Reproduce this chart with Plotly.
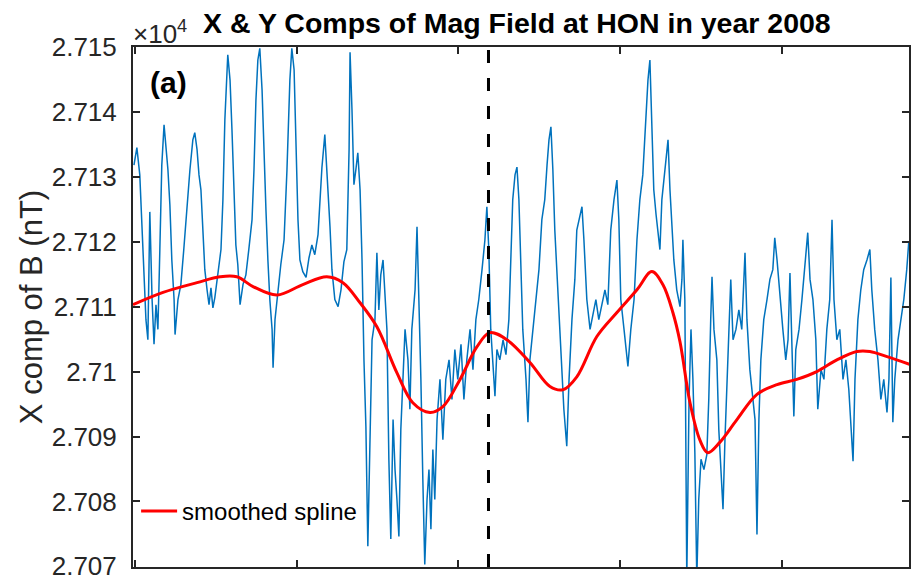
import plotly.graph_objects as go

# ---- data ----
day = [-0.03, 0.06, 0.15, 0.25, 0.34, 0.40, 0.46, 0.53, 0.59, 0.65,
       0.71, 0.77, 0.83, 0.90, 0.96, 1.02, 1.08, 1.14, 1.21, 1.24,
       1.33, 1.42, 1.51, 1.61, 1.70, 1.79, 1.85, 1.92, 1.98, 2.04,
       2.10, 2.16, 2.23, 2.29, 2.35, 2.41, 2.47, 2.57, 2.66, 2.72,
       2.78, 2.87, 2.94, 3.00, 3.06, 3.12, 3.18, 3.25, 3.34, 3.43,
       3.52, 3.62, 3.68, 3.74, 3.80, 3.86, 3.93, 3.99, 4.05, 4.11,
       4.17, 4.24, 4.27, 4.33, 4.42, 4.51, 4.61, 4.70, 4.79, 4.85,
       4.92, 4.98, 5.04, 5.10, 5.19, 5.29, 5.38, 5.47, 5.56, 5.66,
       5.72, 5.78, 5.87, 5.93, 6.03, 6.09, 6.18, 6.28, 6.37, 6.46,
       6.55, 6.62, 6.65, 6.71, 6.77, 6.83, 6.89, 6.96, 7.02, 7.08,
       7.14, 7.20, 7.26, 7.33, 7.42, 7.48, 7.54, 7.60, 7.67, 7.73,
       7.79, 7.85, 7.91, 7.98, 8.04, 8.10, 8.16, 8.22, 8.28, 8.35,
       8.44, 8.50, 8.56, 8.66, 8.72, 8.78, 8.84, 8.90, 8.96, 9.03,
       9.09, 9.15, 9.21, 9.27, 9.34, 9.43, 9.52, 9.61, 9.71, 9.80,
       9.89, 9.98, 10.08, 10.17, 10.26, 10.36, 10.45, 10.54, 10.63, 10.73,
       10.82, 10.88, 10.94, 11.00, 11.07, 11.13, 11.19, 11.28, 11.38, 11.47,
       11.56, 11.62, 11.68, 11.75, 11.81, 11.87, 11.93, 11.99, 12.09, 12.15,
       12.21, 12.30, 12.40, 12.49, 12.58, 12.67, 12.74, 12.80, 12.86, 12.92,
       12.98, 13.08, 13.17, 13.26, 13.35, 13.42, 13.51, 13.60, 13.66, 13.73,
       13.82, 13.88, 13.97, 14.07, 14.16, 14.25, 14.34, 14.44, 14.53, 14.62,
       14.71, 14.81, 14.90, 14.96, 15.02, 15.12, 15.18, 15.24, 15.33, 15.43,
       15.52, 15.61, 15.70, 15.80, 15.86, 15.92, 15.98, 16.04, 16.11, 16.17,
       16.23, 16.29, 16.35, 16.41, 16.48, 16.54, 16.60, 16.66, 16.75, 16.85,
       16.91, 16.94, 17.00, 17.06, 17.13, 17.19, 17.25, 17.31, 17.37, 17.43,
       17.50, 17.59, 17.68, 17.74, 17.80, 17.84, 17.90, 17.99, 18.05, 18.11,
       18.18, 18.24, 18.30, 18.36, 18.42, 18.49, 18.58, 18.67, 18.76, 18.86,
       18.92, 19.01, 19.10, 19.17, 19.23, 19.29, 19.35, 19.44, 19.54, 19.63,
       19.72, 19.78, 19.85, 19.94, 20.03, 20.12, 20.19, 20.25, 20.31, 20.37,
       20.43, 20.53, 20.62, 20.71, 20.80, 20.87, 20.96, 21.05, 21.11, 21.21,
       21.30, 21.39, 21.48, 21.55, 21.61, 21.70, 21.79, 21.89, 21.98, 22.07,
       22.13, 22.20, 22.26, 22.35, 22.44, 22.53, 22.63, 22.72, 22.78, 22.87,
       22.97, 23.06, 23.15, 23.25, 23.31, 23.37, 23.43, 23.49, 23.59, 23.68,
       23.77, 23.86, 23.92]

bx_nT = [27131.8, 27134.5, 27130.3, 27117.2, 27108, 27104.9, 27124.6, 27111.1, 27104.2, 27110.3,
         27106.5, 27118.8, 27131.8, 27138, 27134.2, 27131.1, 27125.7, 27117.2, 27111.1, 27105.7,
         27111.1, 27113.4, 27118.8, 27125.7, 27131.1, 27135.7, 27136.8, 27134.2, 27130.3, 27128,
         27121.8, 27115.7, 27112.6, 27110.3, 27112.9, 27109.8, 27111.4, 27114.9, 27118.8, 27126.5,
         27138.8, 27148.8, 27144.9, 27137.2, 27126.5, 27119.5, 27116.5, 27110.3, 27113.4, 27114.9,
         27118.8, 27123.4, 27131.1, 27141.8, 27148, 27149.8, 27143.4, 27132.6, 27124.9, 27117.2,
         27111.1, 27106.5, 27100.6, 27108, 27112.6, 27116.5, 27120.3, 27131.1, 27144.9, 27149.8,
         27146.5, 27134.2, 27123.4, 27117.2, 27115.4, 27114.5, 27117.5, 27119.5, 27118, 27121.1,
         27126.5, 27131.4, 27136.5, 27131.8, 27122.3, 27115.7, 27111.1, 27110, 27112.6, 27116.9,
         27118.8, 27134.2, 27149.2, 27140.3, 27128.8, 27131.1, 27133.7, 27128, 27117.2, 27101.8,
         27091.5, 27073.1, 27088, 27104.9, 27108, 27118.3, 27109.5, 27114.9, 27117.2, 27111.1,
         27106.5, 27086.5, 27074.2, 27092.6, 27084.9, 27080.3, 27074.6, 27091.1, 27098.8, 27106.5,
         27101.8, 27094.2, 27106.5, 27112.6, 27122.3, 27111.1, 27098.8, 27083.4, 27070.3, 27080.3,
         27084.9, 27075.7, 27088, 27080.3, 27092.6, 27098.8, 27089.5, 27098.8, 27101.8, 27095.7,
         27103.4, 27098.8, 27104.2, 27095.7, 27101.8, 27106.5, 27100.3, 27108, 27111.1, 27115.7,
         27120.3, 27125.4, 27118.8, 27106.5, 27100.3, 27096.2, 27103.4, 27101.8, 27104.9, 27102.6,
         27108, 27117.2, 27126.5, 27130.3, 27131.5, 27126.5, 27117.2, 27106.5, 27098.8, 27092.2,
         27101.8, 27106.5, 27111.1, 27115.7, 27123.4, 27126.5, 27131.8, 27135.7, 27137.7, 27131.1,
         27121.8, 27111.1, 27101.8, 27094.2, 27088.5, 27098.8, 27108, 27114.2, 27121.8, 27123.4,
         27125.4, 27120.3, 27111.1, 27106.5, 27108.8, 27111.1, 27108, 27110.3, 27112.6, 27110.3,
         27121.8, 27126.5, 27129.5, 27123.4, 27111.1, 27106.5, 27103.4, 27100.8, 27106.5, 27111.1,
         27120.3, 27126.5, 27130.3, 27138.8, 27144.9, 27148, 27138.8, 27128, 27124.2, 27121.1,
         27118.8, 27126.5, 27129.5, 27132.6, 27135.7, 27128, 27123.4, 27117.2, 27112.6, 27110,
         27114.2, 27120.3, 27111.1, 27068, 27095.7, 27106.5, 27098.8, 27087.5, 27068, 27080.3,
         27086.5, 27084.9, 27087.2, 27095.7, 27108, 27114.6, 27106.5, 27101.8, 27091.1, 27084.9,
         27078.8, 27089.5, 27098.8, 27108, 27114.2, 27104.9, 27106.5, 27109.5, 27106.5, 27118.3,
         27108, 27100.3, 27095.7, 27092.6, 27074.9, 27092.6, 27101.8, 27108, 27111.1, 27114.2,
         27115.7, 27120.6, 27117.2, 27111.1, 27106.5, 27101.8, 27104.9, 27115.2, 27104.9, 27093.1,
         27103.4, 27106.5, 27111.1, 27115.7, 27121.4, 27114.2, 27111.1, 27104.9, 27094.2, 27100.3,
         27098.8, 27106.5, 27111.1, 27123.4, 27111.1, 27104.9, 27106.5, 27098.8, 27101.8, 27097.2,
         27092.6, 27086.2, 27098.8, 27108, 27112.6, 27115.7, 27117.2, 27118.8, 27112.6, 27106.5,
         27101.8, 27095.7, 27098.8, 27093.7, 27098.8, 27114.5, 27092.2, 27098.8, 27104.9, 27108,
         27111.1, 27115.7, 27119.8]

spline_day = [-0.06, 0.87, 1.92, 2.63, 3.15, 3.65, 4.39, 5.19, 5.93, 6.43,
              6.96, 7.48, 8.10, 8.59, 9.12, 9.52, 10.05, 10.57, 10.97, 11.50,
              12.21, 12.83, 13.23, 13.66, 14.28, 14.90, 15.52, 15.98, 16.32, 16.63,
              16.85, 17.16, 17.47, 17.71, 18.08, 18.61, 19.23, 19.85, 20.46, 21.08,
              21.70, 22.32, 22.72, 23.25, 23.96]
spline_nT = [27110.3, 27112.2, 27113.7, 27114.6, 27114.6, 27113.1, 27111.8, 27113.4, 27114.6, 27113.7,
             27110.6, 27106.9, 27099.8, 27095.2, 27093.7, 27094.6, 27098.8, 27103.8, 27106.0, 27104.9,
             27101.4, 27097.7, 27097.2, 27099.2, 27105.4, 27109.1, 27112.6, 27115.4, 27113.4, 27109.1,
             27104.6, 27095.2, 27089.4, 27087.5, 27089.1, 27092.6, 27096.5, 27098.0, 27098.8, 27100.0,
             27101.8, 27103.1, 27103.1, 27102.3, 27101.1]

event_day = 10.93

y_tick_vals = [27070, 27080, 27090, 27100, 27110, 27120, 27130, 27140, 27150]
y_tick_text = ["2.707", "2.708", "2.709", "2.71", "2.711", "2.712", "2.713", "2.714", "2.715"]
x_tick_vals = [0, 5, 10, 15, 20]
x_range = [-0.06, 23.93]
y_range = [27069.9, 27150]

title_text = "X & Y Comps of Mag Field at HON in year 2008"
y_title = "X comp of B (nT)"
legend_name = "smoothed spline"

AXC = "#262626"
FONT = "Liberation Sans, Arial, sans-serif"

fig = go.Figure()
fig.add_trace(go.Scatter(x=day, y=bx_nT, mode="lines",
                         line=dict(color="#0072BD", width=1.5),
                         showlegend=False, hoverinfo="skip"))
fig.add_trace(go.Scatter(x=spline_day, y=spline_nT, mode="lines",
                         line=dict(color="#FF0000", width=3, shape="spline", smoothing=1.0),
                         name=legend_name))

fig.add_shape(type="line", xref="x", yref="paper", x0=event_day, x1=event_day, y0=0, y1=1,
              line=dict(color="black", width=3, dash="13px,15px"))

fig.update_layout(
    width=914, height=577,
    margin=dict(l=133, r=5, t=47, b=10, autoexpand=False),
    paper_bgcolor="white", plot_bgcolor="white",
    font=dict(family=FONT, color=AXC),
    showlegend=True,
    legend=dict(x=0.004, y=0.107, xanchor="left", yanchor="middle",
                bgcolor="rgba(0,0,0,0)", borderwidth=0, itemwidth=36,
                font=dict(size=24, color="black", family=FONT)),
    annotations=[
        dict(text="<b>" + title_text + "</b>", xref="paper", yref="paper", x=0.495, y=1,
             xanchor="center", yanchor="middle", yshift=24, showarrow=False,
             font=dict(size=28.5, color="black", family=FONT)),
        dict(text="×10<sup>4</sup>", xref="paper", yref="paper", x=-0.002, y=1,
             xanchor="left", yanchor="middle", yshift=15, showarrow=False,
             font=dict(size=26, color=AXC, family=FONT)),
        dict(text="<b>(a)</b>", xref="paper", yref="paper", x=0.019, y=0.931,
             xanchor="left", yanchor="middle", showarrow=False,
             font=dict(size=30, color="black", family=FONT)),
    ],
)

fig.update_xaxes(range=x_range, tickvals=x_tick_vals, showticklabels=False,
                 ticks="inside", ticklen=7, tickwidth=2, tickcolor=AXC,
                 showline=True, linewidth=2, linecolor=AXC, mirror="ticks",
                 showgrid=False, zeroline=False, automargin=False)
fig.update_yaxes(range=y_range, tickvals=y_tick_vals, ticktext=y_tick_text,
                 ticks="inside", ticklen=7, tickwidth=2, tickcolor=AXC,
                 showline=True, linewidth=2, linecolor=AXC, mirror="ticks",
                 showgrid=False, zeroline=False, ticklabelstandoff=9,
                 ticklabeloverflow="allow", automargin=False,
                 tickfont=dict(size=26, color=AXC),
                 title=dict(text=y_title, font=dict(size=31, color=AXC), standoff=0))

fig.write_html("out.html")
